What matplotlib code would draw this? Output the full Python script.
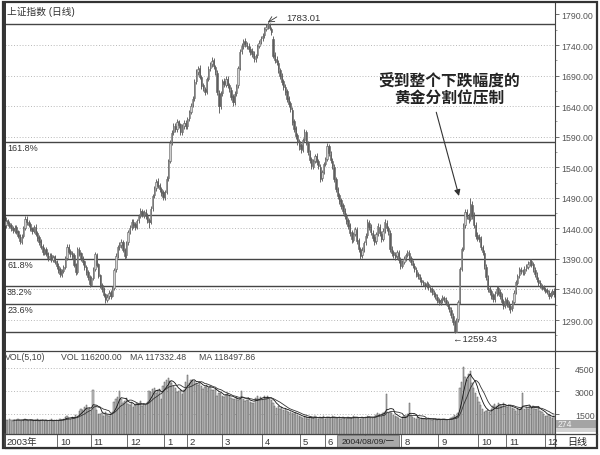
import numpy as np
import pandas as pd
import matplotlib
matplotlib.use('Agg')
import matplotlib.pyplot as plt
from matplotlib.patches import Rectangle
from matplotlib.lines import Line2D

plt.rcParams['font.family'] = ['Liberation Sans', 'Noto Sans CJK SC', 'DejaVu Sans']

# daily bars (about Aug 2003 - Dec 2004)
close = [
    1452, 1448, 1444, 1440, 1437, 1441, 1434, 1428, 1419, 1426,
    1440, 1455, 1450, 1446, 1439, 1436, 1442, 1431, 1425, 1418,
    1410, 1401, 1405, 1398, 1392, 1395, 1390, 1393, 1385, 1378,
    1372, 1365, 1370, 1376, 1392, 1409, 1402, 1398, 1395, 1380,
    1368, 1406, 1398, 1390, 1385, 1376, 1368, 1360, 1349, 1358,
    1372, 1398, 1380, 1362, 1346, 1340, 1331, 1324, 1328, 1335,
    1329, 1341, 1372, 1395, 1409, 1412, 1418, 1405, 1395, 1416,
    1434, 1441, 1450, 1446, 1442, 1452, 1460, 1468, 1462, 1466,
    1460, 1454, 1450, 1472, 1493, 1505, 1516, 1510, 1504, 1498,
    1492, 1499, 1521, 1550, 1580, 1596, 1607, 1603, 1614, 1609,
    1598, 1606, 1612, 1608, 1619, 1630, 1641, 1652, 1680, 1695,
    1701, 1688, 1673, 1669, 1663, 1684, 1701, 1708, 1714, 1705,
    1696, 1663, 1640, 1660, 1680, 1676, 1684, 1675, 1668, 1655,
    1647, 1660, 1673, 1702, 1729, 1738, 1745, 1741, 1738, 1733,
    1729, 1725, 1718, 1722, 1738, 1744, 1750, 1755, 1766, 1770,
    1775, 1768, 1761, 1722, 1716, 1712, 1700, 1689, 1680, 1671,
    1663, 1652, 1644, 1635, 1614, 1603, 1591, 1582, 1575, 1570,
    1584, 1598, 1580, 1565, 1552, 1542, 1550, 1558, 1549, 1542,
    1521, 1532, 1545, 1553, 1575, 1563, 1552, 1542, 1521, 1505,
    1493, 1485, 1477, 1468, 1460, 1452, 1444, 1433, 1422, 1430,
    1439, 1420, 1406, 1395, 1405, 1416, 1428, 1450, 1442, 1434,
    1425, 1418, 1430, 1444, 1432, 1422, 1436, 1450, 1441, 1434,
    1406, 1400, 1396, 1393, 1401, 1388, 1378, 1384, 1390, 1396,
    1401, 1392, 1385, 1380, 1373, 1366, 1362, 1357, 1353, 1350,
    1346, 1350, 1344, 1341, 1336, 1333, 1329, 1323, 1319, 1322,
    1327, 1324, 1318, 1313, 1308, 1298, 1287, 1270, 1290, 1319,
    1373, 1406, 1444, 1467, 1460, 1455, 1480, 1460, 1445, 1428,
    1425, 1422, 1410, 1401, 1378, 1360, 1341, 1336, 1330, 1324,
    1333, 1341, 1335, 1329, 1320, 1313, 1324, 1316, 1312, 1308,
    1319, 1335, 1352, 1362, 1373, 1370, 1368, 1374, 1378, 1382,
    1385, 1380, 1373, 1365, 1357, 1350, 1346, 1343, 1341, 1338,
    1336, 1329, 1334, 1337, 1333]
open_ = [
    1446, 1453, 1449, 1445, 1441, 1436, 1442, 1435, 1429, 1418,
    1427, 1441, 1456, 1451, 1447, 1440, 1435, 1443, 1432, 1426,
    1419, 1411, 1400, 1406, 1399, 1391, 1396, 1389, 1394, 1386,
    1379, 1373, 1364, 1371, 1377, 1391, 1410, 1403, 1399, 1396,
    1381, 1369, 1405, 1399, 1391, 1386, 1377, 1369, 1361, 1348,
    1359, 1373, 1396, 1381, 1363, 1347, 1341, 1332, 1323, 1329,
    1336, 1330, 1342, 1373, 1396, 1410, 1413, 1417, 1404, 1396,
    1417, 1435, 1442, 1451, 1447, 1443, 1453, 1461, 1469, 1461,
    1467, 1461, 1453, 1451, 1473, 1494, 1506, 1517, 1511, 1505,
    1499, 1491, 1500, 1522, 1551, 1581, 1597, 1608, 1602, 1615,
    1610, 1597, 1607, 1613, 1607, 1620, 1631, 1642, 1653, 1681,
    1696, 1702, 1687, 1674, 1668, 1664, 1685, 1702, 1709, 1715,
    1704, 1695, 1662, 1641, 1661, 1681, 1675, 1685, 1674, 1667,
    1656, 1646, 1661, 1674, 1703, 1730, 1739, 1746, 1740, 1739,
    1734, 1730, 1726, 1717, 1723, 1739, 1745, 1751, 1756, 1767,
    1771, 1774, 1767, 1750, 1723, 1717, 1711, 1699, 1690, 1681,
    1672, 1664, 1653, 1645, 1634, 1615, 1604, 1592, 1583, 1576,
    1569, 1585, 1597, 1579, 1564, 1553, 1541, 1551, 1559, 1550,
    1541, 1522, 1533, 1546, 1554, 1574, 1562, 1551, 1541, 1520,
    1504, 1494, 1486, 1478, 1469, 1461, 1453, 1445, 1434, 1421,
    1431, 1438, 1421, 1407, 1396, 1406, 1417, 1429, 1449, 1443,
    1433, 1426, 1419, 1431, 1443, 1431, 1423, 1437, 1449, 1440,
    1433, 1407, 1401, 1397, 1394, 1400, 1389, 1379, 1385, 1391,
    1397, 1400, 1391, 1384, 1379, 1372, 1365, 1361, 1356, 1352,
    1349, 1347, 1349, 1343, 1340, 1335, 1332, 1328, 1322, 1318,
    1323, 1326, 1323, 1317, 1312, 1307, 1297, 1286, 1271, 1291,
    1320, 1374, 1407, 1445, 1466, 1461, 1456, 1479, 1461, 1446,
    1429, 1426, 1423, 1409, 1400, 1377, 1359, 1342, 1337, 1331,
    1325, 1334, 1342, 1336, 1330, 1321, 1314, 1323, 1317, 1313,
    1309, 1320, 1336, 1351, 1363, 1372, 1369, 1367, 1375, 1377,
    1383, 1386, 1381, 1372, 1364, 1356, 1351, 1345, 1344, 1340,
    1339, 1335, 1330, 1333, 1338]
high = [
    1458, 1456, 1452, 1448, 1444, 1445, 1446, 1438, 1431, 1430,
    1444, 1460, 1461, 1454, 1450, 1443, 1446, 1447, 1435, 1429,
    1422, 1414, 1409, 1410, 1402, 1399, 1399, 1397, 1397, 1389,
    1383, 1376, 1374, 1380, 1395, 1414, 1415, 1407, 1403, 1399,
    1384, 1410, 1409, 1402, 1394, 1389, 1380, 1372, 1364, 1362,
    1376, 1402, 1399, 1384, 1366, 1350, 1344, 1335, 1332, 1339,
    1339, 1345, 1375, 1399, 1413, 1418, 1423, 1421, 1408, 1420,
    1438, 1446, 1455, 1456, 1450, 1456, 1464, 1473, 1472, 1470,
    1471, 1465, 1457, 1476, 1497, 1509, 1521, 1522, 1514, 1508,
    1503, 1503, 1525, 1554, 1585, 1601, 1612, 1612, 1619, 1618,
    1613, 1610, 1617, 1617, 1623, 1634, 1645, 1657, 1685, 1700,
    1706, 1707, 1691, 1678, 1672, 1688, 1705, 1712, 1720, 1719,
    1708, 1699, 1666, 1664, 1684, 1686, 1689, 1689, 1678, 1671,
    1660, 1664, 1677, 1706, 1733, 1743, 1750, 1751, 1745, 1743,
    1739, 1735, 1730, 1726, 1742, 1748, 1754, 1760, 1770, 1774,
    1777, 1776, 1770, 1754, 1728, 1722, 1715, 1703, 1694, 1685,
    1676, 1668, 1657, 1649, 1638, 1619, 1608, 1596, 1587, 1580,
    1588, 1603, 1601, 1583, 1568, 1557, 1554, 1562, 1563, 1553,
    1545, 1536, 1549, 1557, 1579, 1578, 1566, 1555, 1545, 1524,
    1508, 1498, 1490, 1482, 1473, 1465, 1457, 1449, 1438, 1434,
    1443, 1442, 1425, 1410, 1409, 1420, 1432, 1455, 1454, 1447,
    1437, 1430, 1434, 1448, 1447, 1435, 1440, 1455, 1453, 1444,
    1437, 1411, 1405, 1401, 1405, 1404, 1393, 1388, 1394, 1400,
    1405, 1404, 1395, 1388, 1383, 1376, 1369, 1365, 1360, 1356,
    1353, 1354, 1353, 1347, 1344, 1339, 1336, 1332, 1326, 1326,
    1331, 1330, 1327, 1321, 1316, 1311, 1301, 1290, 1294, 1323,
    1377, 1410, 1449, 1472, 1471, 1465, 1490, 1484, 1466, 1450,
    1434, 1431, 1427, 1413, 1404, 1381, 1363, 1346, 1341, 1335,
    1337, 1346, 1346, 1340, 1334, 1325, 1328, 1327, 1321, 1317,
    1323, 1339, 1356, 1366, 1377, 1377, 1374, 1378, 1382, 1386,
    1390, 1390, 1385, 1376, 1368, 1360, 1355, 1349, 1348, 1344,
    1343, 1339, 1338, 1341, 1342]
low = [
    1441, 1444, 1440, 1436, 1432, 1433, 1430, 1424, 1414, 1415,
    1424, 1437, 1446, 1442, 1435, 1431, 1432, 1427, 1420, 1413,
    1406, 1396, 1396, 1394, 1387, 1388, 1385, 1385, 1381, 1373,
    1367, 1360, 1361, 1367, 1374, 1388, 1398, 1393, 1390, 1376,
    1363, 1365, 1394, 1386, 1380, 1372, 1364, 1355, 1344, 1345,
    1355, 1370, 1377, 1358, 1342, 1336, 1327, 1318, 1319, 1325,
    1325, 1327, 1339, 1369, 1392, 1405, 1408, 1401, 1390, 1392,
    1413, 1431, 1438, 1441, 1437, 1439, 1449, 1457, 1458, 1457,
    1455, 1449, 1440, 1447, 1469, 1490, 1501, 1506, 1499, 1493,
    1487, 1486, 1496, 1518, 1547, 1576, 1592, 1598, 1598, 1604,
    1592, 1593, 1603, 1603, 1603, 1616, 1627, 1638, 1649, 1676,
    1691, 1684, 1668, 1664, 1658, 1660, 1681, 1697, 1704, 1700,
    1691, 1658, 1628, 1636, 1657, 1671, 1671, 1670, 1663, 1650,
    1640, 1642, 1657, 1670, 1699, 1725, 1734, 1736, 1733, 1728,
    1724, 1720, 1713, 1713, 1719, 1735, 1741, 1746, 1752, 1763,
    1766, 1764, 1756, 1718, 1711, 1707, 1695, 1684, 1675, 1666,
    1658, 1647, 1639, 1630, 1609, 1598, 1586, 1577, 1569, 1563,
    1565, 1581, 1576, 1560, 1547, 1537, 1537, 1547, 1544, 1537,
    1516, 1518, 1529, 1542, 1550, 1559, 1547, 1537, 1516, 1500,
    1488, 1480, 1472, 1463, 1455, 1447, 1439, 1428, 1416, 1417,
    1427, 1415, 1401, 1390, 1392, 1402, 1413, 1425, 1437, 1429,
    1420, 1413, 1415, 1427, 1428, 1417, 1419, 1433, 1436, 1429,
    1401, 1395, 1391, 1388, 1390, 1383, 1373, 1375, 1381, 1387,
    1393, 1387, 1380, 1375, 1368, 1361, 1357, 1352, 1348, 1345,
    1341, 1342, 1339, 1336, 1331, 1328, 1324, 1318, 1314, 1314,
    1318, 1320, 1314, 1308, 1303, 1293, 1282, 1269, 1270, 1287,
    1316, 1370, 1403, 1441, 1455, 1449, 1452, 1455, 1440, 1423,
    1420, 1417, 1405, 1396, 1373, 1355, 1336, 1331, 1325, 1319,
    1320, 1329, 1331, 1324, 1315, 1308, 1309, 1311, 1307, 1302,
    1305, 1316, 1332, 1347, 1359, 1366, 1364, 1363, 1371, 1373,
    1379, 1376, 1369, 1361, 1353, 1346, 1342, 1339, 1337, 1334,
    1332, 1325, 1326, 1329, 1328]
volume = [
    1120, 1080, 1150, 1100, 1060, 1130, 1090, 1170, 1110, 1050,
    1140, 1200, 1090, 1060, 1120, 1080, 1030, 1100, 1150, 1070,
    1090, 1130, 1060, 1110, 1040, 1080, 1150, 1020, 1090, 1120,
    1060, 1180, 1100, 1200, 1290, 1350, 1240, 1180, 1300, 1250,
    1420, 1380, 1700, 1850, 1760, 1950, 2100, 1820, 1900, 1680,
    3050, 2000, 1750, 1520, 1480, 1560, 1400, 1620, 1450, 1380,
    1500, 1650, 2300, 2480, 2600, 3000, 2450, 2200, 2350, 2520,
    2150, 2080, 2250, 1980, 2060, 2200, 2120, 2350, 2020, 2180,
    2100, 2280, 3000, 2950, 3150, 3200, 2880, 3050, 3120, 2500,
    3300, 3600, 3750, 3870, 3650, 3500, 3300, 3200, 2950, 3000,
    3050, 2800, 3100, 3600, 4060, 3500, 3700, 3750, 3650, 3550,
    3400, 3600, 3300, 3150, 3250, 3400, 3200, 3350, 3100, 3050,
    3150, 2700, 2900, 2850, 2700, 2600, 2750, 2850, 2650, 2550,
    2500, 2450, 2600, 2400, 2500, 3000, 2450, 2350, 2400, 2550,
    2300, 2250, 2200, 2550, 2650, 2500, 2600, 2450, 2700, 2550,
    2650, 2500, 2400, 2200, 2050, 1900, 2000, 1800, 1950, 1750,
    1850, 1700, 1650, 1620, 1600, 1500, 1550, 1420, 1380, 1300,
    1250, 1350, 1280, 1200, 1300, 1250, 1220, 1350, 1300, 1180,
    1300, 1250, 1380, 1200, 1320, 1280, 1230, 1350, 1300, 1260,
    1240, 1300, 1200, 1280, 1250, 1190, 1320, 1260, 1230, 1350,
    1280, 1300, 1240, 1200, 1330, 1260, 1290, 1380, 1320, 1270,
    1250, 1300, 1450, 1600, 1500, 1400, 1550, 1650, 2800, 1600,
    1650, 1550, 1450, 1350, 1300, 1250, 1200, 1280, 1350, 1300,
    1500, 2200, 1400, 1300, 1250, 1200, 1280, 1150, 1220, 1180,
    1200, 1150, 1250, 1180, 1120, 1200, 1150, 1100, 1170, 1130,
    1150, 1200, 1120, 1100, 1180, 1250, 1300, 1450, 1350, 1600,
    3200, 3600, 4560, 3900, 3700, 4100, 4310, 3500, 3200, 2900,
    2600, 2300, 2100, 1800, 1650, 1700, 1750, 1620, 1800, 2050,
    2150, 2000, 2250, 2100, 2050, 2200, 2000, 1950, 2100, 2050,
    1900, 1800, 1700, 1850, 1750, 1900, 2850, 1800, 1950, 1850,
    2000, 1900, 2050, 1850, 1800, 1950, 1700, 1650, 1500, 1400,
    1350, 1450, 1300, 1250, 1400]

# the "7" label sits under the cursor-date box, so it is not shown
month_labels = ['10', '11', '12', '1', '2', '3', '4', '5', '6', '', '8', '9', '10', '11', '12']
month_starts = [30, 49, 70, 91, 104, 124, 147, 169, 183, 206, 227, 248, 271, 287, 309]

fib_levels = [1581, 1462, 1390, 1346, 1316, 1270]
fib_labels = ['161.8%', '', '61.8%', '38.2%', '23.6%', '']
top_level = 1775
price_ticks = [1290, 1340, 1390, 1440, 1490, 1540, 1590, 1640, 1690, 1740, 1790]
vol_ticks = [1500, 3000, 4500]

W, H = 600, 456


def fx(x):
    return x / W


def fy(y):
    return 1 - y / H


fig = plt.figure(figsize=(6, 4.56), dpi=100)
fig.patch.set_facecolor('white')

n = len(close)
idx = np.arange(n)
o = np.array(open_, float)
c = np.array(close, float)
up = c >= o

ax = fig.add_axes([fx(5), fy(352), fx(555) - fx(5), fy(4) - fy(352)])
ax.set_xlim(-0.5, n - 0.5)
ax.set_ylim(1239.3, 1808.8)

for t in price_ticks[:-1]:
    ax.axhline(t, color='#b0b0b0', lw=0.6, ls=(0, (1.2, 2.2)), zorder=1)
for lv in fib_levels + [top_level]:
    ax.axhline(lv, color='#454545', lw=1.0, zorder=2)
for lv, lab in zip(fib_levels, fib_labels):
    if lab:
        ax.annotate(lab, xy=(0, lv), xycoords=('axes fraction', 'data'),
                    xytext=(1.5, -4), textcoords='offset points',
                    ha='left', va='center', fontsize=6.5, color='#333')

ax.vlines(idx, low, high, color='#5e5e5e', lw=0.65, zorder=3)
body_h = np.maximum(np.abs(c - o), 1.0)
ax.bar(idx[up], body_h[up], bottom=np.minimum(o, c)[up], width=0.75,
       color='#cfcfcf', edgecolor='#5e5e5e', lw=0.4, zorder=4)
ax.bar(idx[~up], body_h[~up], bottom=np.minimum(o, c)[~up], width=0.75,
       color='#5e5e5e', edgecolor='#5e5e5e', lw=0.4, zorder=4)

hi_i = int(np.argmax(high))
lo_i = int(np.argmin(low))
ax.annotate('', xy=(hi_i, high[hi_i]), xytext=(6.5, 4), textcoords='offset points',
            arrowprops=dict(arrowstyle='->', lw=0.6, color='#333', shrinkA=0, shrinkB=0))
ax.annotate('1783.01', xy=(hi_i, high[hi_i]), xytext=(13.5, 3.6), textcoords='offset points',
            ha='left', va='center', fontsize=6.8, color='#333')
ax.annotate('\u21901259.43', xy=(lo_i, low[lo_i]), xytext=(-1.5, -4.3), textcoords='offset points',
            ha='left', va='center', fontsize=6.8, color='#333')

ax.text(254, 1669, '受到整个下跌幅度的\n黄金分割位压制', ha='center', va='center',
        fontsize=11.3, fontweight='bold', color='#222',
        family=['Noto Sans CJK SC', 'DejaVu Sans'], linespacing=1.1)
ax.annotate('', xy=(259.5, 1493), xytext=(246.5, 1630),
            arrowprops=dict(arrowstyle='-|>', lw=0.8, color='#333', mutation_scale=9,
                            shrinkA=0, shrinkB=0))

ax.text(0.004, 0.976, '上证指数 (日线)', transform=ax.transAxes, ha='left', va='center',
        fontsize=7, color='#333')

ax.yaxis.tick_right()
ax.set_yticks(price_ticks)
ax.set_yticklabels([f'{t:.2f}' for t in price_ticks])
ax.set_yticks(np.arange(1265, 1800, 25), minor=True)
ax.tick_params(axis='y', which='major', length=3, width=0.6, pad=1.2, labelsize=6.3,
               colors='#555', direction='out')
ax.tick_params(axis='y', which='minor', length=1.6, width=0.5, colors='#777')
ax.set_xticks([])
for s in ['top', 'bottom']:
    ax.spines[s].set_visible(False)
ax.spines['left'].set_linewidth(1.4)
ax.spines['left'].set_color('#333')
ax.spines['right'].set_linewidth(0.8)
ax.spines['right'].set_color('#444')

# volume panel
av = fig.add_axes([fx(5), fy(435), fx(555) - fx(5), fy(352) - fy(435)])
av.set_xlim(-0.5, n - 0.5)
av.set_ylim(200, 5610)
for t in vol_ticks:
    av.axhline(t, color='#b0b0b0', lw=0.6, ls=(0, (1.2, 2.2)), zorder=1)
av.bar(idx, volume, width=0.78, color='#c4c4c4', edgecolor='#5a5a5a', lw=0.35, zorder=2)
vs = pd.Series(volume, dtype=float)
av.plot(idx, vs.rolling(5).mean(), color='#111', lw=0.6, zorder=3)
av.plot(idx, vs.rolling(10).mean(), color='#333', lw=0.6, zorder=3)
av.yaxis.tick_right()
av.set_yticks(vol_ticks)
av.set_yticklabels([str(t) for t in vol_ticks])
for lbl in av.get_yticklabels():
    lbl.set_horizontalalignment('right')
av.tick_params(axis='y', length=3, width=0.6, pad=25.5, labelsize=6.3, colors='#555')
av.set_xticks([])
av.spines['top'].set_linewidth(0.9)
av.spines['top'].set_color('#444')
av.spines['bottom'].set_visible(False)
av.spines['left'].set_linewidth(1.4)
av.spines['left'].set_color('#333')
av.spines['right'].set_linewidth(0.8)
av.spines['right'].set_color('#444')
for x0, s in [(2, 'VOL(5,10)'), (58, 'VOL 116200.00'), (127, 'MA 117332.48'), (196, 'MA 118497.86')]:
    fig.text(fx(x0 + 3), fy(358), s, ha='left', va='center', fontsize=6.3, color='#444')

# date strip
ad = fig.add_axes([fx(5), fy(449), fx(555) - fx(5), fy(435) - fy(449)])
ad.set_xlim(-0.5, n - 0.5)
ad.set_ylim(0, 1)
ad.set_xticks([])
ad.set_yticks([])
for s in ad.spines.values():
    s.set_color('#444')
    s.set_linewidth(0.9)
ad.spines['left'].set_linewidth(1.4)
ad.text(0.5, 0.45, '2003年', ha='left', va='center', fontsize=6.8, color='#333')
for m, lab in zip(month_starts, month_labels):
    ad.axvline(m - 0.5, color='#555', lw=0.6)
    if lab:
        ad.annotate(lab, xy=(m - 0.5, 0.45), xytext=(2.2, 0), textcoords='offset points',
                    ha='left', va='center', fontsize=6.8, color='#333')
ad.add_patch(Rectangle((189.5, 0.08), 35.5, 0.84, facecolor='#a9a9a9', edgecolor='#666',
                       lw=0.5, zorder=5))
ad.text(207.2, 0.48, '2004/08/09/一', ha='center', va='center', fontsize=6.0,
        color='#222', zorder=6)

# right column decorations
fig.add_artist(Rectangle((fx(556), fy(429)), fx(597) - fx(556), fy(421) - fy(429),
                         transform=fig.transFigure, facecolor='#a4a4a4', edgecolor='none'))
fig.add_artist(Rectangle((fx(556), fy(433)), fx(597) - fx(556), fy(429) - fy(433),
                         transform=fig.transFigure, facecolor='#d2d2d2', edgecolor='none'))
fig.text(fx(558), fy(425), '274', ha='left', va='center', fontsize=6.2, color='#f4f4f4')
fig.text(fx(577), fy(442.5), '日线', ha='center', va='center', fontsize=7.2, color='#222',
         family=['Noto Sans CJK SC', 'DejaVu Sans'])
for yy in [352, 435]:
    fig.add_artist(Line2D([fx(555), fx(597)], [fy(yy), fy(yy)], transform=fig.transFigure,
                          color='#444', lw=0.9))
fig.add_artist(Rectangle((fx(3), fy(449)), fx(597) - fx(3), fy(3) - fy(449),
                         transform=fig.transFigure, facecolor='none', edgecolor='#333', lw=1.6))

fig.savefig('out.png', dpi=100)
